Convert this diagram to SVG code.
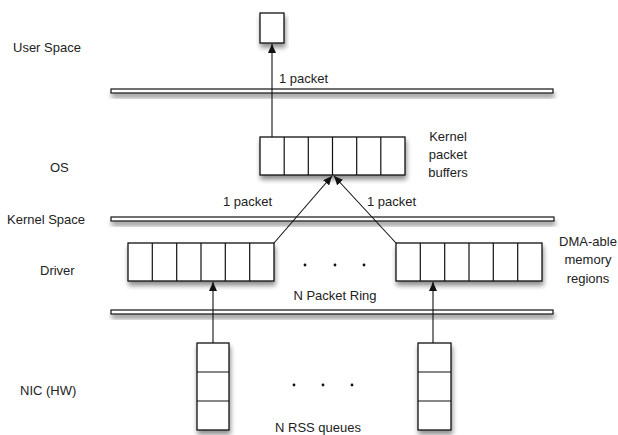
<svg xmlns="http://www.w3.org/2000/svg" width="618" height="435" viewBox="0 0 618 435">
<style>
text{font-family:"Liberation Sans",Arial,sans-serif;font-size:13px;fill:#222}
.box{fill:#fff;stroke:#111;stroke-width:1.3}
.cell{stroke:#111;stroke-width:1.2}
.bar{fill:#fff;stroke:#111;stroke-width:1.2}
.conn{stroke:#111;stroke-width:1.1;fill:none}
</style>
<defs>
<filter id="sh" x="-20%" y="-50%" width="140%" height="300%">
<feGaussianBlur in="SourceAlpha" stdDeviation="2.5"/>
<feOffset dx="1" dy="4" result="b"/>
<feComponentTransfer><feFuncA type="linear" slope="0.45"/></feComponentTransfer>
<feMerge><feMergeNode/><feMergeNode in="SourceGraphic"/></feMerge>
</filter>
<marker id="ah" markerWidth="10" markerHeight="8" refX="9" refY="4" orient="auto" markerUnits="userSpaceOnUse">
<path d="M0,0 L9,4 L0,8 z" fill="#111"/>
</marker>
</defs>
<rect width="618" height="435" fill="#fff"/>
<g id="labels">
<text x="13" y="52">User Space</text>
<text x="50" y="172">OS</text>
<text x="7" y="224">Kernel Space</text>
<text x="40" y="275">Driver</text>
<text x="20" y="395">NIC (HW)</text>
</g>
<g id="bars">
<rect id="bar-user" class="bar" x="111" y="89" width="442" height="4" filter="url(#sh)"/>
<rect id="bar-kernel" class="bar" x="111" y="217" width="443" height="4" filter="url(#sh)"/>
<rect id="bar-nic" class="bar" x="111" y="310" width="442" height="4" filter="url(#sh)"/>
</g>
<g id="user-box">
<rect class="box" x="260" y="13" width="24" height="30" filter="url(#sh)"/>
</g>
<g id="kernel-buffers">
<rect class="box" x="260" y="137" width="145" height="38" filter="url(#sh)"/>
<path class="cell" d="M284.2,137v38M308.3,137v38M332.5,137v38M356.7,137v38M380.8,137v38"/>
<text x="448" y="141" text-anchor="middle">Kernel</text>
<text x="448" y="159" text-anchor="middle">packet</text>
<text x="448" y="177" text-anchor="middle">buffers</text>
</g>
<g id="driver-ring-left">
<rect class="box" x="128" y="243" width="146" height="38" filter="url(#sh)"/>
<path class="cell" d="M152.3,243v38M176.7,243v38M201,243v38M225.3,243v38M249.7,243v38"/>
</g>
<g id="driver-ring-right">
<rect class="box" x="396" y="243" width="146" height="38" filter="url(#sh)"/>
<path class="cell" d="M420.3,243v38M444.7,243v38M469,243v38M493.3,243v38M517.7,243v38"/>
<text x="588" y="246" text-anchor="middle">DMA-able</text>
<text x="588" y="264" text-anchor="middle">memory</text>
<text x="588" y="283" text-anchor="middle">regions</text>
</g>
<g id="ring-dots">
<circle cx="305" cy="265" r="1.4" fill="#111"/>
<circle cx="335" cy="265" r="1.4" fill="#111"/>
<circle cx="364" cy="265" r="1.4" fill="#111"/>
<text x="335" y="300" text-anchor="middle">N Packet Ring</text>
</g>
<g id="rss-queue-left">
<rect class="box" x="197" y="343" width="32" height="87" filter="url(#sh)"/>
<path class="cell" d="M197,372h32M197,401h32"/>
</g>
<g id="rss-queue-right">
<rect class="box" x="418" y="343" width="33" height="87" filter="url(#sh)"/>
<path class="cell" d="M418,372h33M418,401h33"/>
</g>
<g id="rss-dots">
<circle cx="294" cy="385" r="1.4" fill="#111"/>
<circle cx="323" cy="385" r="1.4" fill="#111"/>
<circle cx="352" cy="385" r="1.4" fill="#111"/>
<text x="318" y="432" text-anchor="middle">N RSS queues</text>
</g>
<g id="connectors">
<line class="conn" x1="272" y1="137" x2="272" y2="44" marker-end="url(#ah)"/>
<line class="conn" x1="274" y1="243" x2="332" y2="176" marker-end="url(#ah)"/>
<line class="conn" x1="396" y1="243" x2="334" y2="176" marker-end="url(#ah)"/>
<line class="conn" x1="213" y1="343" x2="213" y2="282" marker-end="url(#ah)"/>
<line class="conn" x1="433" y1="343" x2="433" y2="282" marker-end="url(#ah)"/>
<text x="279" y="83">1 packet</text>
<text x="223" y="206">1 packet</text>
<text x="367" y="206">1 packet</text>
</g>
</svg>
